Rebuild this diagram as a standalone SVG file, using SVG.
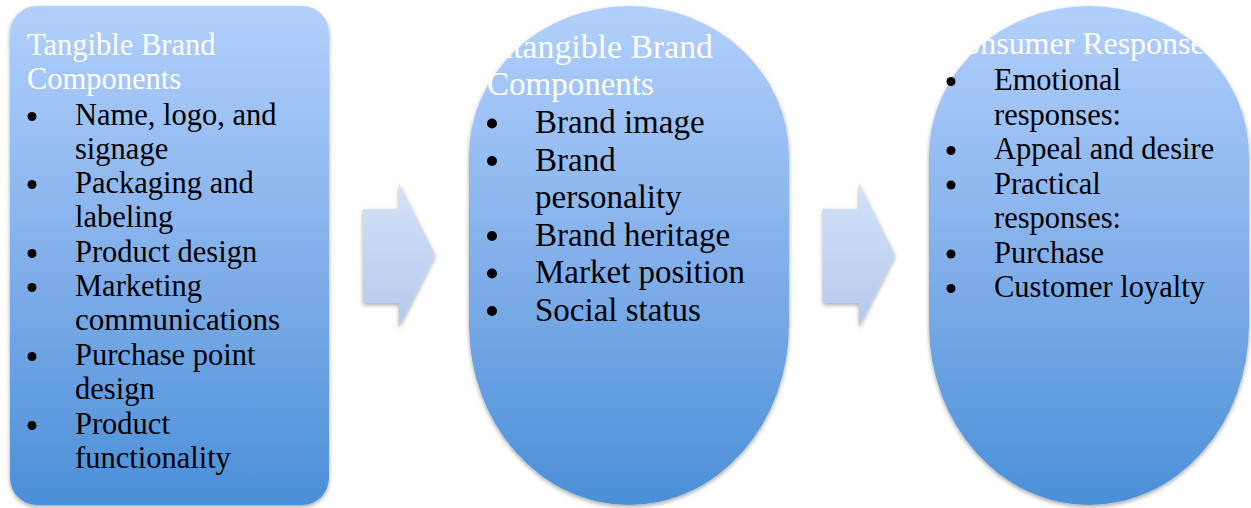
<svg xmlns="http://www.w3.org/2000/svg" width="1251" height="508" viewBox="0 0 1251 508">
  <defs>
    <linearGradient id="nodeFill" x1="0" y1="0" x2="0" y2="1">
      <stop offset="0" stop-color="#b2d0fc"/>
      <stop offset="0.5" stop-color="#83b0ea"/>
      <stop offset="1" stop-color="#4a8fd7"/>
    </linearGradient>
    <linearGradient id="arrowFill" x1="0" y1="0" x2="0" y2="1">
      <stop offset="0" stop-color="#d3e2f9"/>
      <stop offset="1" stop-color="#b3c9ed"/>
    </linearGradient>
    <filter id="shadow" x="-10%" y="-10%" width="120%" height="120%">
      <feDropShadow dx="0" dy="2" stdDeviation="2" flood-color="#000" flood-opacity="0.35"/>
    </filter>
  </defs>
  <style>
    .node { fill: url(#nodeFill); filter: url(#shadow); }
    .arrow { fill: url(#arrowFill); filter: url(#shadow); }
    .title { font-family: "Liberation Serif", "Times New Roman", serif; fill: #ffffff; }
    .body { font-family: "Liberation Serif", "Times New Roman", serif; fill: #000000; }
    .s30 { font-size: 30.5px; }
    .s33 { font-size: 33px; }
    .dot { fill: #000000; }
  </style>

  <rect width="1251" height="508" fill="#ffffff"/>

  <!-- connectors: block arrows between the stages -->
  <g id="connectors">
    <polygon class="arrow" points="363,209 399,209 399,183 435,255 399,327 399,303 363,303"/>
    <polygon class="arrow" points="823,209 859,209 859,183 895,255 859,327 859,303 823,303"/>
  </g>

  <!-- stage 1: tangible components -->
  <g id="tangible">
    <rect class="node" x="10" y="6" width="319" height="499" rx="27" ry="27"/>
    <text class="title s30" x="27" y="55">Tangible Brand</text>
    <text class="title s30" x="27" y="89">Components</text>
    <g class="dot">
      <circle cx="32" cy="116.5" r="4.5"/>
      <circle cx="32" cy="184.5" r="4.5"/>
      <circle cx="32" cy="253.5" r="4.5"/>
      <circle cx="32" cy="287.5" r="4.5"/>
      <circle cx="32" cy="356.5" r="4.5"/>
      <circle cx="32" cy="425.5" r="4.5"/>
    </g>
    <g class="body s30">
      <text x="75" y="125">Name, logo, and</text>
      <text x="75" y="159">signage</text>
      <text x="75" y="193">Packaging and</text>
      <text x="75" y="227">labeling</text>
      <text x="75" y="262">Product design</text>
      <text x="75" y="296">Marketing</text>
      <text x="75" y="330" textLength="205" lengthAdjust="spacingAndGlyphs">communications</text>
      <text x="75" y="365">Purchase point</text>
      <text x="75" y="399">design</text>
      <text x="75" y="434">Product</text>
      <text x="75" y="468">functionality</text>
    </g>
  </g>

  <!-- stage 2: intangible components -->
  <g id="intangible">
    <path class="node" d="M469,156 A160,150 0 0 1 789,156 L789,325 A160,180 0 0 1 469,325 Z"/>
    <text class="title s33" x="485" y="58" textLength="228" lengthAdjust="spacingAndGlyphs">Intangible Brand</text>
    <text class="title s33" x="487" y="95">Components</text>
    <g class="dot">
      <circle cx="492" cy="123.5" r="5"/>
      <circle cx="492" cy="161" r="5"/>
      <circle cx="492" cy="236" r="5"/>
      <circle cx="492" cy="273.5" r="5"/>
      <circle cx="492" cy="311" r="5"/>
    </g>
    <g class="body s33">
      <text x="535" y="133">Brand image</text>
      <text x="535" y="170.5">Brand</text>
      <text x="535" y="208">personality</text>
      <text x="535" y="245.5">Brand heritage</text>
      <text x="535" y="283">Market position</text>
      <text x="535" y="320.5">Social status</text>
    </g>
  </g>

  <!-- stage 3: consumer responses -->
  <g id="responses">
    <path class="node" d="M929,156 A160,150 0 0 1 1249,156 L1249,325 A160,180 0 0 1 929,325 Z"/>
    <text class="title s30" x="943" y="54" textLength="274" lengthAdjust="spacingAndGlyphs">Consumer Responses</text>
    <g class="dot">
      <circle cx="951" cy="81.5" r="4.5"/>
      <circle cx="951" cy="150.5" r="4.5"/>
      <circle cx="951" cy="185" r="4.5"/>
      <circle cx="951" cy="254" r="4.5"/>
      <circle cx="951" cy="288.5" r="4.5"/>
    </g>
    <g class="body s30">
      <text x="994" y="90">Emotional</text>
      <text x="994" y="124.5">responses:</text>
      <text x="994" y="159">Appeal and desire</text>
      <text x="994" y="193.5">Practical</text>
      <text x="994" y="228">responses:</text>
      <text x="994" y="262.5">Purchase</text>
      <text x="994" y="297">Customer loyalty</text>
    </g>
  </g>
</svg>
